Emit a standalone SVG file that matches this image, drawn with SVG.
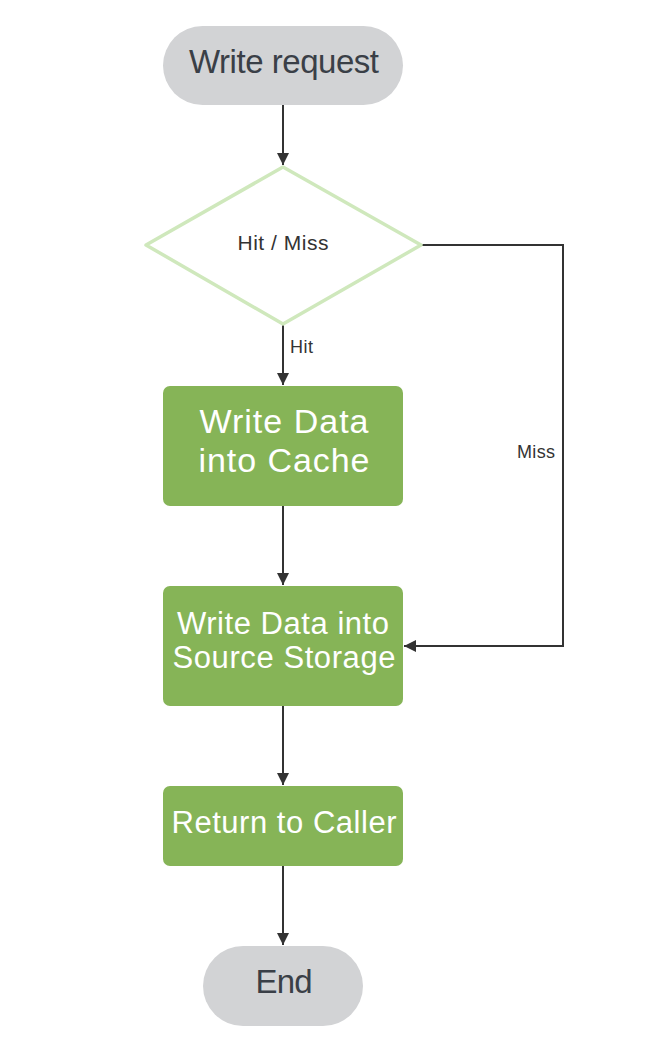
<svg xmlns="http://www.w3.org/2000/svg" width="664" height="1058" viewBox="0 0 664 1058">
<style>
.term{fill:#d2d3d5}
.proc{fill:#86b457}
.dec{fill:#ffffff;stroke:#cfe8bc;stroke-width:3.5;stroke-linejoin:round}
.tdark{font-family:"Liberation Sans",Arial,sans-serif;fill:#3a3f47;text-anchor:middle}
.twhite{font-family:"Liberation Sans",Arial,sans-serif;fill:#ffffff;text-anchor:middle}
.lbl{font-family:"Liberation Sans",Arial,sans-serif;fill:#333333;font-size:18px}
.conn{fill:none;stroke:#333333;stroke-width:2;marker-end:url(#arr)}
</style>
<defs>
<marker id="arr" markerWidth="12" markerHeight="12" viewBox="0 0 12 12" refX="12" refY="6" orient="auto" markerUnits="userSpaceOnUse">
<path d="M0,0 L12,6 L0,12 Z" fill="#333333"/>
</marker>
</defs>
<rect width="664" height="1058" fill="#ffffff"/>
<g id="connectors">
<path class="conn" d="M283,105 L283,165"/>
<path class="conn" d="M283,325 L283,385"/>
<path class="conn" d="M283,506 L283,585"/>
<path class="conn" d="M283,706 L283,785"/>
<path class="conn" d="M283,866 L283,945"/>
<path class="conn" d="M421,245 L563,245 L563,646 L404,646"/>
<text class="lbl" x="290" y="353" textLength="23" lengthAdjust="spacing">Hit</text>
<text class="lbl" x="517" y="458" textLength="38" lengthAdjust="spacing">Miss</text>
</g>
<g id="start">
<rect class="term" x="163" y="26" width="240" height="79" rx="39.5"/>
<text class="tdark" x="284" y="73" font-size="33" textLength="190" lengthAdjust="spacing">Write request</text>
</g>
<g id="decision">
<path class="dec" d="M283,167 L421,245 L283,324 L146,245 Z"/>
<text class="tdark" x="283" y="250" font-size="21" style="fill:#333333" textLength="91" lengthAdjust="spacing">Hit / Miss</text>
</g>
<g id="cache">
<rect class="proc" x="163" y="386" width="240" height="120" rx="7"/>
<text class="twhite" x="284" y="433" font-size="34" textLength="169" lengthAdjust="spacing">Write Data</text>
<text class="twhite" x="284" y="472" font-size="34" textLength="171" lengthAdjust="spacing">into Cache</text>
</g>
<g id="storage">
<rect class="proc" x="163" y="586" width="240" height="120" rx="7"/>
<text class="twhite" x="283" y="634" font-size="31" textLength="212" lengthAdjust="spacing">Write Data into</text>
<text class="twhite" x="284" y="668" font-size="31" textLength="223" lengthAdjust="spacing">Source Storage</text>
</g>
<g id="return">
<rect class="proc" x="163" y="786" width="240" height="80" rx="7"/>
<text class="twhite" x="284" y="833" font-size="31" textLength="225" lengthAdjust="spacing">Return to Caller</text>
</g>
<g id="end">
<rect class="term" x="203" y="946" width="160" height="80" rx="40"/>
<text class="tdark" x="284" y="993" font-size="33" textLength="57" lengthAdjust="spacing">End</text>
</g>
</svg>
